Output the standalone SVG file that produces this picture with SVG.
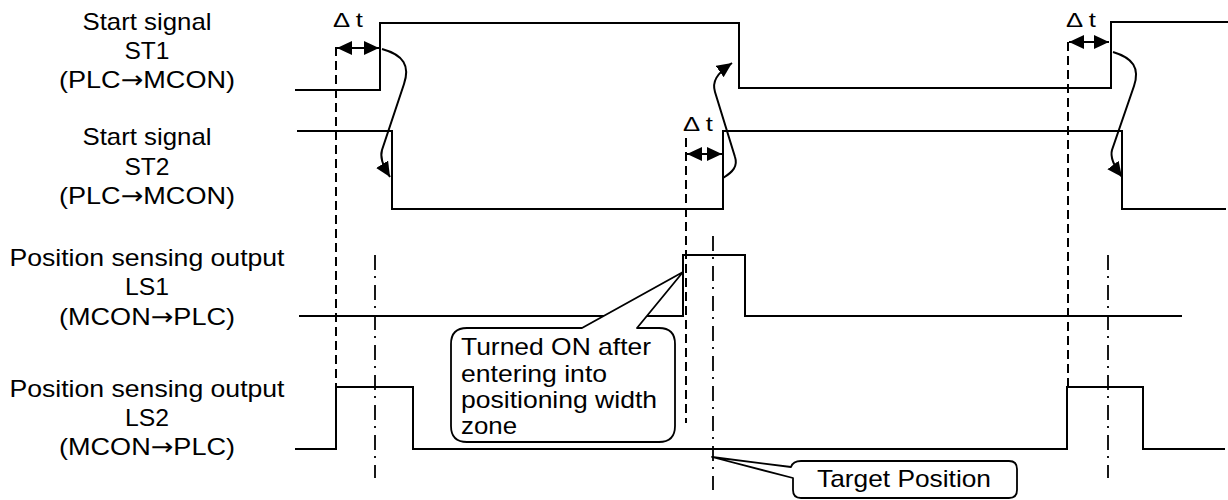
<svg xmlns="http://www.w3.org/2000/svg" width="1228" height="500" viewBox="0 0 1228 500">
<style>
text{font-family:"Liberation Sans",Arial,sans-serif;font-size:24px;fill:#000}
.dt{font-size:21px}
.ar{font-family:"DejaVu Sans",sans-serif}
.sig{fill:none;stroke:#000;stroke-width:2}
.dash{fill:none;stroke:#000;stroke-width:2;stroke-dasharray:9,5}
.dd{fill:none;stroke:#000;stroke-width:1.8;stroke-dasharray:15,6,2,7}
.arr{fill:none;stroke:#000;stroke-width:2}
.call{fill:#fff;stroke:#000;stroke-width:1.8;stroke-linejoin:round}
</style>
<defs>
<marker id="ah" markerUnits="userSpaceOnUse" markerWidth="17" markerHeight="15" refX="15" refY="7" orient="auto-start-reverse" viewBox="0 0 17 15">
<path d="M0,0 L15,7 L0,14 z" fill="#000"/>
</marker>
</defs>
<rect width="1228" height="500" fill="#fff"/>

<g id="labels">
<g id="label-st1" text-anchor="middle">
<text x="147" y="30" textLength="129" lengthAdjust="spacingAndGlyphs">Start signal</text>
<text x="147" y="59" textLength="45" lengthAdjust="spacingAndGlyphs">ST1</text>
<text x="147" y="88" textLength="176" lengthAdjust="spacingAndGlyphs">(PLC<tspan class="ar">→</tspan>MCON)</text>
</g>
<g id="label-st2" text-anchor="middle">
<text x="147" y="145" textLength="129" lengthAdjust="spacingAndGlyphs">Start signal</text>
<text x="147" y="175" textLength="45" lengthAdjust="spacingAndGlyphs">ST2</text>
<text x="147" y="204" textLength="176" lengthAdjust="spacingAndGlyphs">(PLC<tspan class="ar">→</tspan>MCON)</text>
</g>
<g id="label-ls1" text-anchor="middle">
<text x="147" y="266" textLength="275" lengthAdjust="spacingAndGlyphs">Position sensing output</text>
<text x="147" y="295" textLength="44" lengthAdjust="spacingAndGlyphs">LS1</text>
<text x="147" y="325" textLength="176" lengthAdjust="spacingAndGlyphs">(MCON<tspan class="ar">→</tspan>PLC)</text>
</g>
<g id="label-ls2" text-anchor="middle">
<text x="147" y="397" textLength="275" lengthAdjust="spacingAndGlyphs">Position sensing output</text>
<text x="147" y="426" textLength="44" lengthAdjust="spacingAndGlyphs">LS2</text>
<text x="147" y="455" textLength="176" lengthAdjust="spacingAndGlyphs">(MCON<tspan class="ar">→</tspan>PLC)</text>
</g>
</g>

<g id="guides">
<path class="dash" d="M336,47 V387"/>
<path class="dash" d="M686,138 V423"/>
<path class="dash" d="M1068,42 V387"/>
<path class="dd" d="M375,255 V478"/>
<path class="dd" d="M713,236 V490"/>
<path class="dd" d="M1108,255 V478"/>
</g>

<g id="signals">
<path id="st1" class="sig" d="M295,90 H380 V23 H739 V88 H1111 V22 H1228"/>
<path id="st2" class="sig" d="M297,131 H392 V209 H723 V131 H1122 V209 H1226"/>
<path id="ls1" class="sig" d="M299,316 H683 V255 H745 V316 H1182"/>
<path id="ls2" class="sig" d="M295,449 H336 V387 H413 V449 H1067 V387 H1143 V449 H1225"/>
</g>

<g id="connectors">
<path class="arr" d="M337,48 H379" marker-start="url(#ah)" marker-end="url(#ah)"/>
<path class="arr" d="M687,154 H722" marker-start="url(#ah)" marker-end="url(#ah)"/>
<path class="arr" d="M1069,42 H1109" marker-start="url(#ah)" marker-end="url(#ah)"/>
<path class="arr" d="M382,49 C404,55 410,66 404,84 L382,150 C380,157 382,164 390,177" marker-end="url(#ah)"/>
<path class="arr" d="M723,178 C733,172 738,166 735,157 L715,92 C712,82 716,74 732,63" marker-end="url(#ah)"/>
<path class="arr" d="M1113,52 C1133,58 1140,68 1134,86 L1112,150 C1110,157 1113,165 1122,177" marker-end="url(#ah)"/>
</g>

<g id="dt-labels">
<text class="dt" x="333" y="27" textLength="30" lengthAdjust="spacingAndGlyphs">Δ t</text>
<text class="dt" x="683" y="131" textLength="30" lengthAdjust="spacingAndGlyphs">Δ t</text>
<text class="dt" x="1066" y="27" textLength="30" lengthAdjust="spacingAndGlyphs">Δ t</text>
</g>

<g id="callout-ls1">
<path class="call" d="M467,328 L582,328 L683,272 L637,328 L659,328 Q675,328 675,344 L675,426 Q675,442 659,442 L467,442 Q451,442 451,426 L451,344 Q451,328 467,328 Z"/>
<text x="461" y="355" textLength="190" lengthAdjust="spacingAndGlyphs">Turned ON after</text>
<text x="461" y="382" textLength="146" lengthAdjust="spacingAndGlyphs">entering into</text>
<text x="461" y="408" textLength="196" lengthAdjust="spacingAndGlyphs">positioning width</text>
<text x="461" y="434" textLength="56" lengthAdjust="spacingAndGlyphs">zone</text>
</g>

<g id="callout-target">
<path class="call" d="M712,457 L791,467 Q793,461 801,461 L1009,461 Q1017,461 1017,469 L1017,490 Q1017,498 1009,498 L801,498 Q793,498 793,490 L793,478 Z"/>
<text x="817" y="487" textLength="174" lengthAdjust="spacingAndGlyphs">Target Position</text>
</g>
</svg>
